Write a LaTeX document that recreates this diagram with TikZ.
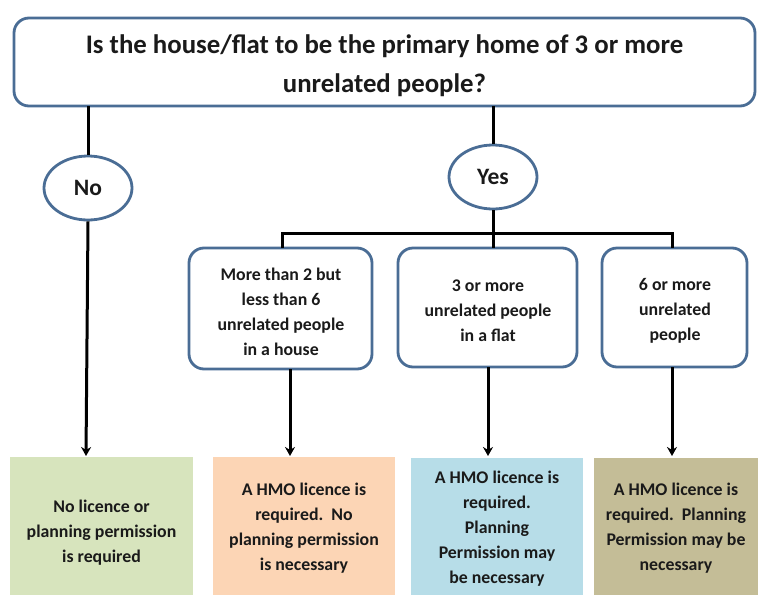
\documentclass[tikz,border=0pt]{standalone}
\usepackage{fontspec}
\setmainfont{Carlito}
\usetikzlibrary{arrows.meta,shapes.geometric}
\definecolor{frameblue}{HTML}{4A6D95}
\definecolor{greenbox}{HTML}{D7E4BD}
\definecolor{orangebox}{HTML}{FCD5B5}
\definecolor{bluebox}{HTML}{B7DDE8}
\definecolor{tanbox}{HTML}{C4BD97}
\definecolor{txt}{HTML}{1A1A1A}
\begin{document}
\begin{tikzpicture}[x=1pt,y=-1pt,
  qbox/.style={draw=frameblue,line width=2.8pt,rounded corners=15pt,fill=white},
  oval/.style={draw=frameblue,line width=2.8pt,fill=white,ellipse,inner sep=0pt,
    minimum width=88pt,minimum height=64pt,text=txt,font=\bfseries\fontsize{23.5}{25}\selectfont},
  link/.style={draw=black,line width=3pt},
  arr/.style={link,-{Stealth[length=9pt,width=10pt]}},
  btxt/.style={font=\bfseries\fontsize{17.8}{25}\selectfont,text=txt,align=center},
]
\useasboundingbox (0,0) rectangle (758,595);
% top question
\draw[qbox] (14,18) rectangle (755,106);
\node[font=\bfseries\fontsize{26.8}{39}\selectfont,text=txt,align=center] (q) at (384.5,66)
  {Is the house/flat to be the primary home of 3 or more\\unrelated people?};
\coordinate (qL) at (88,106);
\coordinate (qR) at (493,106);
% ovals
\node[oval] (no) at (88,188) {No};
\node[oval] (yes) at (493,177) {Yes};
\draw[link] (qL) -- (no.north);
\draw[link] (qR) -- (yes.north);
% middle boxes
\draw[qbox] (189,248) rectangle (372,369);
\draw[qbox] (398,248) rectangle (577,367);
\draw[qbox] (602,248) rectangle (747,367);
\node[btxt] (m1) at (281,312) {More than 2 but\\less than 6\\unrelated people\\in a house};
\node[btxt] (m2) at (488,311) {3 or more\\unrelated people\\in a flat};
\node[btxt] (m3) at (675,311) {6 or more\\unrelated\\people};
\coordinate (m1T) at (282,248);
\coordinate (m2T) at (493,248);
\coordinate (m3T) at (672,248);
\coordinate (m1B) at (290,369);
\coordinate (m2B) at (488,367);
\coordinate (m3B) at (672,367);
\draw[link] (yes.south) -- (m2T);
\draw[link] (m1T) -- (282,233) -- (672,233) -- (m3T);
% outcome boxes
\fill[greenbox] (10,457) rectangle (193,595);
\fill[orangebox] (213,457) rectangle (395,595);
\fill[bluebox] (411,458) rectangle (583,595);
\fill[tanbox] (594,458) rectangle (758,595);
\node[btxt] (o1) at (101.5,533) {No licence or\\planning permission\\is required};
\node[btxt] (o2) at (304,528) {A HMO licence is\\required.\ \ No\\planning permission\\is necessary};
\node[btxt] (o3) at (497,529) {A HMO licence is\\required.\\Planning\\Permission may\\be necessary};
\node[btxt] (o4) at (676,528) {A HMO licence is\\required.\ \ Planning\\Permission may be\\necessary};
\coordinate (o1T) at (86,456);
\coordinate (o2T) at (290,456);
\coordinate (o3T) at (488,456);
\coordinate (o4T) at (672,456);
\draw[arr] (no.south) -- (o1T);
\draw[arr] (m1B) -- (o2T);
\draw[arr] (m2B) -- (o3T);
\draw[arr] (m3B) -- (o4T);
\end{tikzpicture}
\end{document}
